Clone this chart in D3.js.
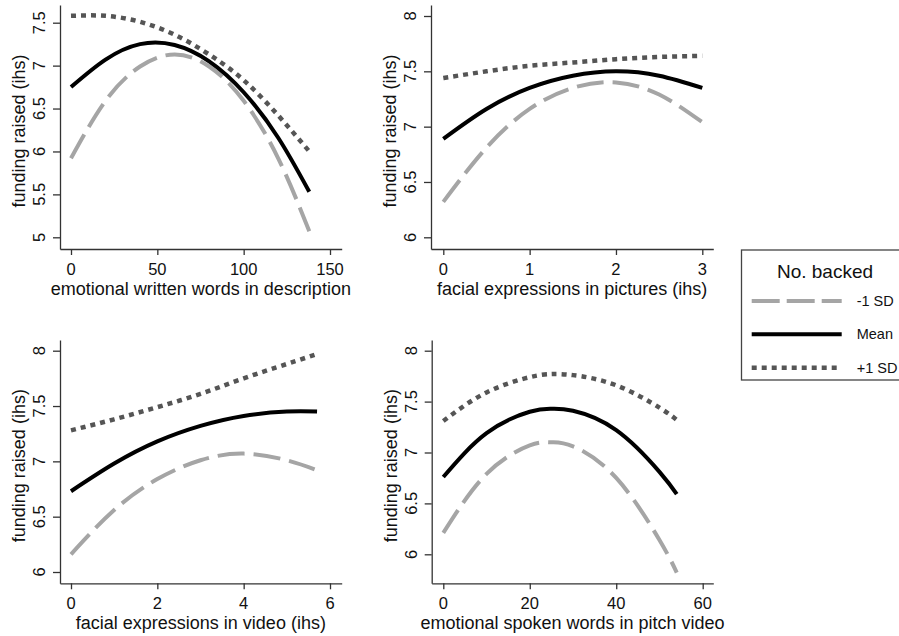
<!DOCTYPE html>
<html>
<head>
<meta charset="utf-8">
<script src="https://cdn.jsdelivr.net/npm/d3@7"></script>
<style>
  body { margin: 0; background: #fff; }
  svg { display: block; font-family: "Liberation Sans", Arial, sans-serif; }
</style>
</head>
<body>
<svg id="chart" width="899" height="636"></svg>
<script>
// values
const p1X = [0, 20, 40, 60, 80, 100, 120, 138];
const p1Low = [5.92, 6.59, 6.99, 7.13, 6.99, 6.59, 5.92, 5.07];
const p1Mean = [6.75, 7.07, 7.25, 7.24, 7.05, 6.69, 6.16, 5.53];
const p1High = [7.58, 7.58, 7.51, 7.36, 7.13, 6.83, 6.42, 6.0];

const p2X = [0, 0.5, 1, 1.5, 2, 2.5, 3];
const p2Low = [6.32, 6.81, 7.16, 7.35, 7.4, 7.29, 7.04];
const p2Mean = [6.89, 7.16, 7.35, 7.46, 7.5, 7.46, 7.35];
const p2High = [7.44, 7.5, 7.55, 7.58, 7.61, 7.63, 7.64];

const p3X = [0, 1, 2, 3, 4, 5, 5.7];
const p3Low = [6.16, 6.56, 6.84, 7.01, 7.07, 7.01, 6.92];
const p3Mean = [6.73, 6.98, 7.18, 7.32, 7.41, 7.45, 7.45];
const p3High = [7.28, 7.38, 7.49, 7.61, 7.75, 7.88, 7.97];

const p4X = [0, 10, 20, 25, 30, 40, 50, 54];
const p4Low = [6.21, 6.79, 7.07, 7.1, 7.06, 6.75, 6.14, 5.82];
const p4Mean = [6.76, 7.19, 7.4, 7.43, 7.41, 7.22, 6.81, 6.59];
const p4High = [7.31, 7.59, 7.74, 7.77, 7.76, 7.66, 7.44, 7.32];

const p1XTicks = [0, 50, 100, 150];
const p2XTicks = [0, 1, 2, 3];
const p3XTicks = [0, 2, 4, 6];
const p4XTicks = [0, 20, 40, 60];
const p1YTicks = [5, 5.5, 6, 6.5, 7, 7.5];
const yTicks = [6, 6.5, 7, 7.5, 8];

const xTitles = [
  "emotional written words in description",
  "facial expressions in pictures (ihs)",
  "facial expressions in video (ihs)",
  "emotional spoken words in pitch video"
];
const yTitle = "funding raised (ihs)";
const legendTitle = "No. backed";
const seriesNames = ["-1 SD", "Mean", "+1 SD"];

// line styles for -1 SD, Mean, +1 SD
const styles = [
  { stroke: "#a5a5a5", width: 4, dash: "27,9" },
  { stroke: "#000000", width: 4, dash: null },
  { stroke: "#555555", width: 4.5, dash: "5,5" }
];

// layout: tick anchors and axis line extents (pixels)
const panels = [
  { x: p1X, s: [p1Low, p1Mean, p1High], xt: p1XTicks, yt: p1YTicks, title: xTitles[0],
    xPix: [71, 330], xLine: [60, 341.7], yPix: [237.3, 22.7], yLine: [249, 5] },
  { x: p2X, s: [p2Low, p2Mean, p2High], xt: p2XTicks, yt: yTicks, title: xTitles[1],
    xPix: [443.3, 702.3], xLine: [431, 713.3], yPix: [237.3, 16], yLine: [249, 5] },
  { x: p3X, s: [p3Low, p3Mean, p3High], xt: p3XTicks, yt: yTicks, title: xTitles[2],
    xPix: [71, 330], xLine: [60, 341.7], yPix: [572, 350.7], yLine: [583.3, 340] },
  { x: p4X, s: [p4Low, p4Mean, p4High], xt: p4XTicks, yt: yTicks, title: xTitles[3],
    xPix: [443.3, 702.7], xLine: [431.7, 713.3], yPix: [554.3, 350.7], yLine: [583.3, 340] }
];

const svg = d3.select("#chart");
const axisColor = "#333";

panels.forEach(p => {
  // scale anchored on the first/last tick, then stretched to the axis line
  const x0 = d3.scaleLinear().domain([p.xt[0], p.xt[p.xt.length - 1]]).range(p.xPix);
  const x = d3.scaleLinear().domain(p.xLine.map(v => x0.invert(v))).range(p.xLine);
  const y0 = d3.scaleLinear().domain([p.yt[0], p.yt[p.yt.length - 1]]).range(p.yPix);
  const y = d3.scaleLinear().domain(p.yLine.map(v => y0.invert(v))).range(p.yLine);

  const axisY = p.yLine[0];
  const axisX = p.xLine[0];

  // x axis
  const gx = svg.append("g")
    .attr("transform", `translate(0,${axisY})`)
    .call(d3.axisBottom(x).tickValues(p.xt).tickSizeInner(6).tickSizeOuter(0).tickFormat(""));
  gx.selectAll("path,line").attr("stroke", axisColor).attr("stroke-width", 1.3);

  svg.append("g").selectAll("text")
    .data(p.xt)
    .join("text")
    .attr("x", d => x(d))
    .attr("y", axisY + 26)
    .attr("text-anchor", "middle")
    .attr("font-size", 16.5)
    .attr("fill", "#111")
    .text(d => d);

  svg.append("text")
    .attr("x", (p.xLine[0] + p.xLine[1]) / 2)
    .attr("y", axisY + 46)
    .attr("text-anchor", "middle")
    .attr("font-size", 18)
    .attr("fill", "#111")
    .text(p.title);

  // y axis
  const gy = svg.append("g")
    .attr("transform", `translate(${axisX},0)`)
    .call(d3.axisLeft(y).tickValues(p.yt).tickSizeInner(7).tickSizeOuter(0).tickFormat(""));
  gy.selectAll("path,line").attr("stroke", axisColor).attr("stroke-width", 1.3);

  svg.append("g").selectAll("text")
    .data(p.yt)
    .join("text")
    .attr("transform", d => `translate(${axisX - 15},${y(d)}) rotate(-90)`)
    .attr("text-anchor", "middle")
    .attr("font-size", 16.5)
    .attr("fill", "#111")
    .text(d => d);

  svg.append("text")
    .attr("transform", `translate(${axisX - 35},${(p.yLine[0] + p.yLine[1]) / 2 + 4}) rotate(-90)`)
    .attr("text-anchor", "middle")
    .attr("font-size", 18)
    .attr("fill", "#111")
    .text(yTitle);

  // curves
  const line = d3.line()
    .x(d => x(d[0]))
    .y(d => y(d[1]))
    .curve(d3.curveNatural);

  p.s.forEach((vals, i) => {
    const st = styles[i];
    svg.append("path")
      .datum(p.x.map((v, k) => [v, vals[k]]))
      .attr("fill", "none")
      .attr("stroke", st.stroke)
      .attr("stroke-width", st.width)
      .attr("stroke-dasharray", st.dash)
      .attr("d", line);
  });
});

// legend
const lg = svg.append("g");
lg.append("rect")
  .attr("x", 741.5)
  .attr("y", 250)
  .attr("width", 170)
  .attr("height", 130)
  .attr("fill", "#fff")
  .attr("stroke", "#444")
  .attr("stroke-width", 1.3);

lg.append("text")
  .attr("x", 825)
  .attr("y", 278)
  .attr("text-anchor", "middle")
  .attr("font-size", 19)
  .attr("fill", "#111")
  .text(legendTitle);

const legendY = d3.scalePoint().domain(seriesNames).range([301, 367.7]);

seriesNames.forEach((name, i) => {
  const st = styles[i];
  lg.append("line")
    .attr("x1", 751.7)
    .attr("x2", 841.7)
    .attr("y1", legendY(name))
    .attr("y2", legendY(name))
    .attr("stroke", st.stroke)
    .attr("stroke-width", st.width)
    .attr("stroke-dasharray", i === 0 ? "28,7" : st.dash);
  lg.append("text")
    .attr("x", 856.7)
    .attr("y", legendY(name))
    .attr("dy", "0.35em")
    .attr("font-size", 14.5)
    .attr("fill", "#111")
    .text(name);
});
</script>
</body>
</html>
